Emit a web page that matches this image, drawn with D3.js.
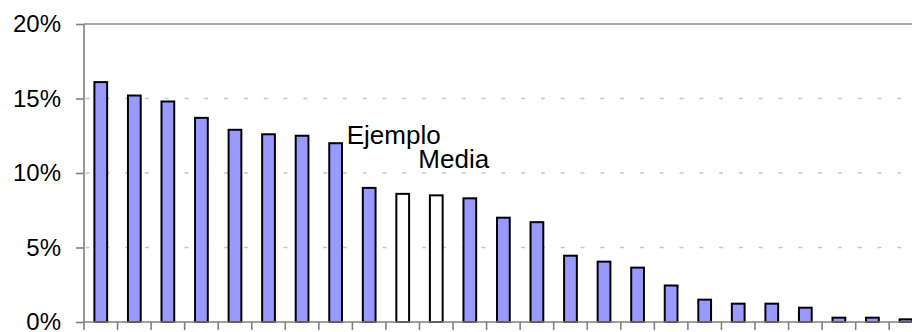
<!DOCTYPE html>
<html>
<head>
<meta charset="utf-8">
<script src="https://cdn.jsdelivr.net/npm/d3@7"></script>
<style>
  html, body { margin: 0; padding: 0; background: #fff; }
  svg { display: block; font-family: "Liberation Sans", Arial, sans-serif; }
</style>
</head>
<body>
<svg id="chart" width="912" height="332"></svg>
<script>
// Share per item, sorted from largest to smallest
const categories = ["1","2","3","4","5","6","7","8","9","10","11","12","13","14","15","16","17","18","19","20","21","22","23","24","25"];
const values = [0.161, 0.152, 0.148, 0.137, 0.129, 0.126, 0.125, 0.120, 0.090, 0.086, 0.085, 0.083, 0.070, 0.067, 0.0445, 0.0405, 0.0365, 0.0245, 0.015, 0.0123, 0.0123, 0.0096, 0.0029, 0.0029, 0.0018];
// Highlighted items drawn unfilled
const highlighted = ["10", "11"];
const labels = [
  { category: "10", text: "Ejemplo", dx: -9, dy: -50 },
  { category: "11", text: "Media", dx: 17.5, dy: -27 }
];
const yTicks = [0, 0.05, 0.10, 0.15, 0.20];

const svg = d3.select("#chart");
const plotLeft = 84, plotTop = 24, plotBottom = 322;
const step = 33.55;

const x = d3.scaleBand()
  .domain(categories)
  .range([plotLeft, plotLeft + step * categories.length])
  .paddingInner(0.62)
  .paddingOuter(0.31);

const y = d3.scaleLinear().domain([0, 0.20]).range([plotBottom, plotTop]);

// Dashed horizontal gridlines
svg.append("g")
  .selectAll("line")
  .data(yTicks.filter(t => t > 0 && t < 0.20))
  .join("line")
  .attr("x1", plotLeft).attr("x2", 912)
  .attr("y1", d => y(d)).attr("y2", d => y(d))
  .attr("stroke", "#c8c8c8")
  .attr("stroke-width", 1.3)
  .attr("stroke-dasharray", "4,15.8")
  .attr("stroke-dashoffset", -1.5);

// Top border of the plot area
svg.append("line")
  .attr("x1", plotLeft).attr("x2", 912)
  .attr("y1", y(0.20)).attr("y2", y(0.20))
  .attr("stroke", "#8a8a8a").attr("stroke-width", 1.6);

// Bars
svg.append("g")
  .selectAll("rect")
  .data(categories.map((c, i) => ({ c, v: values[i] })))
  .join("rect")
  .attr("x", d => x(d.c))
  .attr("width", x.bandwidth())
  .attr("y", d => y(d.v))
  .attr("height", d => y(0) - y(d.v))
  .attr("fill", d => highlighted.includes(d.c) ? "#ffffff" : "#9999ff")
  .attr("stroke", "#000")
  .attr("stroke-width", 2);

// Y axis
const yAxis = svg.append("g")
  .attr("transform", `translate(${plotLeft},0)`)
  .call(d3.axisLeft(y).tickValues(yTicks).tickFormat(d3.format(".0%")).tickSize(8).tickPadding(15));
yAxis.select(".domain").attr("stroke", "#808080").attr("stroke-width", 1.6)
  .attr("d", `M0,${y(0.20)}V${plotBottom + 8}`);
yAxis.selectAll(".tick line").attr("stroke", "#808080").attr("stroke-width", 1.6);
yAxis.selectAll(".tick text")
  .attr("font-size", 24)
  .attr("font-family", "Liberation Sans, Arial, sans-serif")
  .attr("fill", "#000");

// X axis baseline with ticks between categories
const xg = svg.append("g");
xg.append("line")
  .attr("x1", plotLeft).attr("x2", 912)
  .attr("y1", y(0)).attr("y2", y(0))
  .attr("stroke", "#808080").attr("stroke-width", 1.6);
xg.selectAll("line.tick")
  .data(d3.range(1, categories.length + 1))
  .join("line")
  .attr("class", "tick")
  .attr("x1", i => x.range()[0] + i * x.step())
  .attr("x2", i => x.range()[0] + i * x.step())
  .attr("y1", y(0)).attr("y2", y(0) + 8)
  .attr("stroke", "#808080").attr("stroke-width", 1.6);

// Text labels for highlighted bars
svg.append("g")
  .selectAll("text")
  .data(labels)
  .join("text")
  .attr("x", d => x(d.category) + x.bandwidth() / 2 + d.dx)
  .attr("y", d => y(values[categories.indexOf(d.category)]) + d.dy)
  .attr("text-anchor", "middle")
  .attr("font-size", 26)
  .attr("fill", "#000")
  .text(d => d.text);
</script>
</body>
</html>
